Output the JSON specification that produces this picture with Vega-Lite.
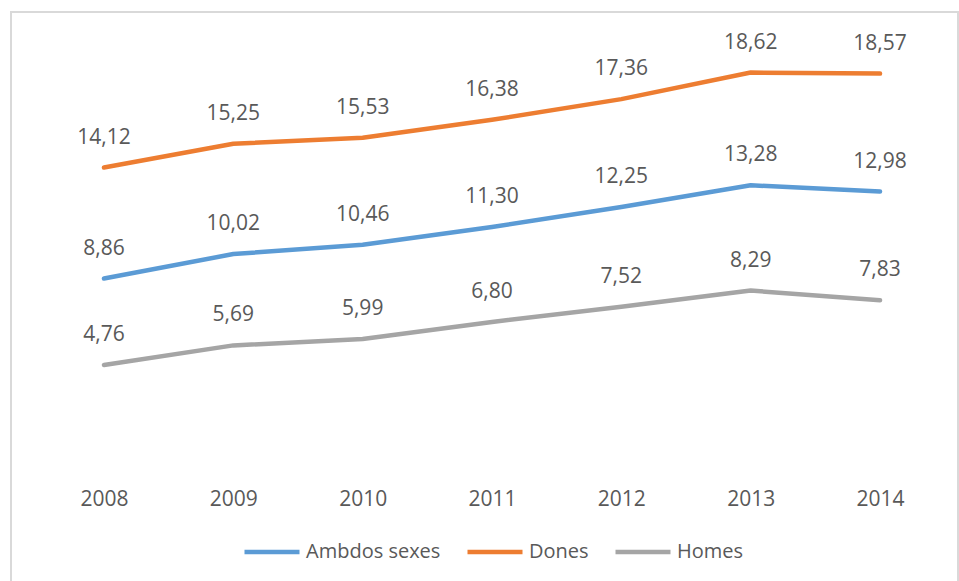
{
  "$schema": "https://vega.github.io/schema/vega-lite/v6.json",
  "autosize": {"type": "none"},
  "padding": {"left": 11, "top": 12, "right": 1, "bottom": 0},
  "width": 947,
  "height": 575,
  "config": {
    "locale": {"number": {"decimal": ",", "thousands": ".", "grouping": [3], "currency": ["", "€"]}},
    "view": {"stroke": "#D9D9D9", "strokeWidth": 2},
    "font": "Open Sans"
  },
  "data": {
    "values": [
      {"year": 2008, "series": "Ambdos sexes", "value": 8.86},
      {"year": 2009, "series": "Ambdos sexes", "value": 10.02},
      {"year": 2010, "series": "Ambdos sexes", "value": 10.46},
      {"year": 2011, "series": "Ambdos sexes", "value": 11.30},
      {"year": 2012, "series": "Ambdos sexes", "value": 12.25},
      {"year": 2013, "series": "Ambdos sexes", "value": 13.28},
      {"year": 2014, "series": "Ambdos sexes", "value": 12.98},
      {"year": 2008, "series": "Dones", "value": 14.12},
      {"year": 2009, "series": "Dones", "value": 15.25},
      {"year": 2010, "series": "Dones", "value": 15.53},
      {"year": 2011, "series": "Dones", "value": 16.38},
      {"year": 2012, "series": "Dones", "value": 17.36},
      {"year": 2013, "series": "Dones", "value": 18.62},
      {"year": 2014, "series": "Dones", "value": 18.57},
      {"year": 2008, "series": "Homes", "value": 4.76},
      {"year": 2009, "series": "Homes", "value": 5.69},
      {"year": 2010, "series": "Homes", "value": 5.99},
      {"year": 2011, "series": "Homes", "value": 6.80},
      {"year": 2012, "series": "Homes", "value": 7.52},
      {"year": 2013, "series": "Homes", "value": 8.29},
      {"year": 2014, "series": "Homes", "value": 7.83}
    ]
  },
  "encoding": {
    "x": {
      "field": "year",
      "type": "quantitative",
      "scale": {"domain": [2007.281, 2014.603], "nice": false, "zero": false},
      "axis": {
        "values": [2008, 2009, 2010, 2011, 2012, 2013, 2014],
        "format": "d",
        "title": null,
        "grid": false,
        "domain": false,
        "ticks": false,
        "labelPadding": 0,
        "offset": -99,
        "labelFlush": false,
        "labelFontSize": 21,
        "labelColor": "#595959",
        "labelFont": "Open Sans"
      }
    },
    "y": {
      "field": "value",
      "type": "quantitative",
      "scale": {"domain": [-5.76, 21.49], "nice": false, "zero": false},
      "axis": null
    }
  },
  "layer": [
    {
      "mark": {"type": "line", "strokeWidth": 4.5, "strokeCap": "round", "strokeJoin": "round"},
      "encoding": {
        "color": {
          "field": "series",
          "type": "nominal",
          "scale": {"domain": ["Ambdos sexes", "Dones", "Homes"], "range": ["#5B9BD5", "#ED7D31", "#A5A5A5"]},
          "legend": {
            "orient": "none",
            "legendX": 231,
            "legendY": 510,
            "direction": "horizontal",
            "title": null,
            "symbolType": "stroke",
            "symbolSize": 3025,
            "symbolStrokeWidth": 4.5,
            "labelFontSize": 20,
            "labelFont": "Open Sans",
            "labelColor": "#595959",
            "labelOffset": 4,
            "columnPadding": 17,
            "padding": 0
          }
        }
      }
    },
    {
      "mark": {"type": "text", "dy": -24, "baseline": "alphabetic", "fontSize": 21, "font": "Open Sans", "color": "#595959"},
      "encoding": {
        "text": {"field": "value", "type": "quantitative", "format": ".2f"}
      }
    }
  ]
}
